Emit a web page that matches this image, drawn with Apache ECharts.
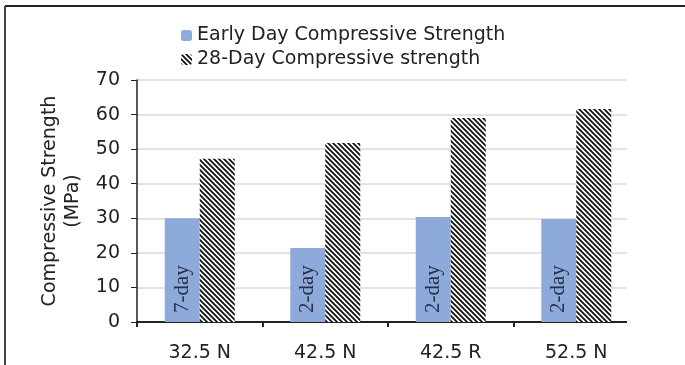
<!DOCTYPE html>
<html>
<head>
<meta charset="utf-8">
<script src="https://cdn.jsdelivr.net/npm/echarts@6/dist/echarts.min.js"></script>
<style>
  html, body { margin: 0; padding: 0; background: #fff; }
  #chart { width: 685px; height: 365px; }
</style>
</head>
<body>
<div id="chart"></div>
<script>
const categories = ['32.5 N', '42.5 N', '42.5 R', '52.5 N'];
const earlyValues = [30, 21.4, 30.4, 29.8];
const earlyLabels = ['7-day', '2-day', '2-day', '2-day'];
const day28Values = [47.2, 51.8, 59.0, 61.6];
const yTicks = [0, 10, 20, 30, 40, 50, 60, 70];

// diagonal hatch pattern for the 28-day bars
function makeHatch() {
  const c = document.createElement('canvas');
  const s = 5;
  c.width = s; c.height = s;
  const ctx = c.getContext('2d');
  ctx.fillStyle = '#fff';
  ctx.fillRect(0, 0, s, s);
  ctx.strokeStyle = '#111';
  ctx.lineWidth = 1.8;
  ctx.beginPath();
  ctx.moveTo(-1, -1); ctx.lineTo(s + 1, s + 1);
  ctx.moveTo(-1, s - 1); ctx.lineTo(1, s + 1);
  ctx.moveTo(s - 1, -1); ctx.lineTo(s + 1, 1);
  ctx.stroke();
  return c;
}

const chart = echarts.init(document.getElementById('chart'));
const font = '"DejaVu Sans", "Liberation Sans", Arial, sans-serif';

chart.setOption({
  animation: false,
  textStyle: { fontFamily: font },
  grid: { left: 137, right: 46, top: 80, bottom: 43 },
  legend: {
    orient: 'vertical',
    left: 176,
    top: 21,
    itemWidth: 11,
    itemHeight: 11,
    itemGap: 5,
    textStyle: { fontSize: 19, lineHeight: 19, color: '#222', fontFamily: font },
    data: ['Early Day Compressive Strength', '28-Day Compressive strength']
  },
  xAxis: {
    type: 'category',
    data: categories,
    axisLine: { lineStyle: { color: '#222', width: 2 } },
    axisTick: { show: true, length: 5, lineStyle: { color: '#222', width: 2 } },
    axisLabel: { fontSize: 19, color: '#222', margin: 22 }
  },
  yAxis: {
    type: 'value',
    min: yTicks[0],
    max: yTicks[yTicks.length - 1],
    interval: 10,
    name: 'Compressive Strength\n(MPa)',
    nameLocation: 'middle',
    nameGap: 46,
    nameTextStyle: { fontSize: 19, color: '#222', lineHeight: 23 },
    axisLine: { show: true, lineStyle: { color: '#222', width: 1.5 } },
    axisTick: { show: true, inside: false, length: 6, lineStyle: { color: '#222' } },
    axisLabel: { fontSize: 19, color: '#222', margin: 17 },
    splitLine: { lineStyle: { color: '#d9d9d9', width: 1.5 } }
  },
  series: [
    {
      name: 'Early Day Compressive Strength',
      type: 'bar',
      data: earlyValues.map((v, i) => ({ value: v, label: { formatter: earlyLabels[i] } })),
      barWidth: 35,
      barGap: '0%',
      itemStyle: { color: '#8eaadb' },
      label: {
        show: true,
        position: 'insideBottom',
        rotate: 90,
        align: 'left',
        verticalAlign: 'middle',
        distance: 9,
        fontFamily: '"Liberation Serif", "Times New Roman", serif',
        fontSize: 21,
        color: '#283048'
      }
    },
    {
      name: '28-Day Compressive strength',
      type: 'bar',
      data: day28Values,
      barWidth: 35,
      itemStyle: { color: { image: makeHatch(), repeat: 'repeat' } }
    }
  ],
  graphic: [
    // plot area in the source stops short of the last category edge
    { type: 'rect', z: 100, shape: { x: 627, y: 70, width: 20, height: 262 }, style: { fill: '#fff' } },
    { type: 'line', z: 100, shape: { x1: 5, y1: 6, x2: 685, y2: 6 }, style: { stroke: '#222', lineWidth: 2 } },
    { type: 'line', z: 100, shape: { x1: 5, y1: 6, x2: 5, y2: 365 }, style: { stroke: '#444', lineWidth: 2 } }
  ]
});
</script>
</body>
</html>
